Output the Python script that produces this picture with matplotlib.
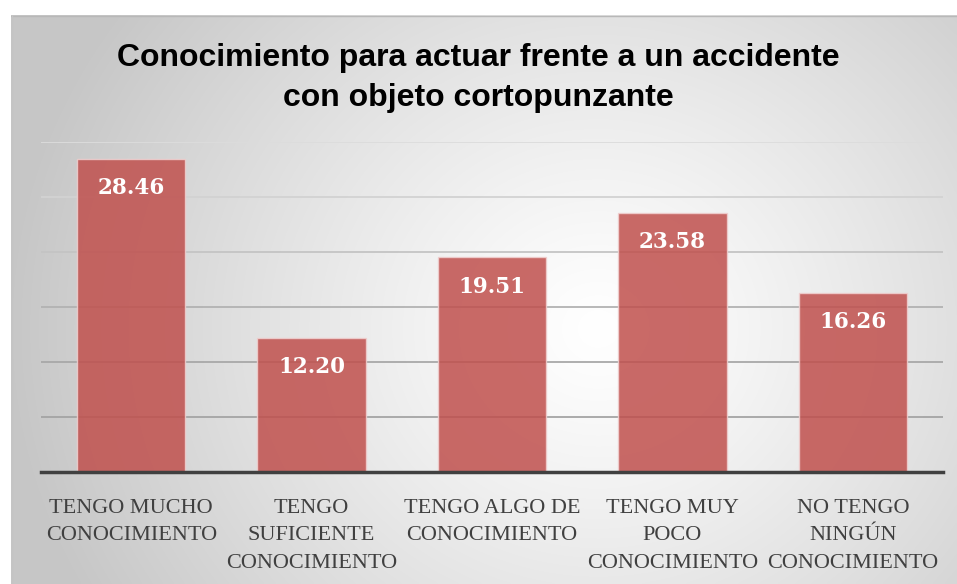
import numpy as np
import matplotlib
matplotlib.use("Agg")
import matplotlib.pyplot as plt

categories = ["TENGO MUCHO\nCONOCIMIENTO", "TENGO\nSUFICIENTE\nCONOCIMIENTO",
              "TENGO ALGO DE\nCONOCIMIENTO", "TENGO MUY\nPOCO\nCONOCIMIENTO",
              "NO TENGO\nNINGÚN\nCONOCIMIENTO"]
values = [28.46, 12.20, 19.51, 23.58, 16.26]
value_labels = ["28.46", "12.20", "19.51", "23.58", "16.26"]
title = "Conocimiento para actuar frente a un accidente\ncon objeto cortopunzante"
grid_values = [5, 10, 15, 20, 25, 30]

W, H = 957, 584
fig = plt.figure(figsize=(W / 100, H / 100), dpi=100)
fig.patch.set_facecolor("white")

# background panel with radial gradient
bg = fig.add_axes([11 / W, 0, 1 - 11 / W, 1 - 15 / H])
bg.set_axis_off()
ny, nx = 300, 500
yy, xx = np.mgrid[0:ny, 0:nx]
cx, cy = 0.62 * nx, 0.55 * ny
d = np.sqrt(((xx - cx) / (nx * 0.62)) ** 2 + ((yy - cy) / (ny * 0.95)) ** 2)
d = np.clip(d, 0, 1)
v = 1.0 - 0.22 * d ** 1.2
img = np.dstack([v, v, v])
bg.imshow(img, aspect="auto", extent=[0, 1, 0, 1], interpolation="bicubic")
bg.set_xlim(0, 1)
bg.set_ylim(0, 1)
bg.plot([0, 1], [0.998, 0.998], color="#b8b8b8", lw=1)
bg.plot([0.001, 0.001], [0, 1], color="#c4c4c4", lw=1)

# main axes
left, right = 41, 943
bottom_px, top_px = 472, 142
ax = fig.add_axes([left / W, 1 - bottom_px / H, (right - left) / W, (bottom_px - top_px) / H])
ax.patch.set_alpha(0)
x = np.arange(len(categories))
bars = ax.bar(x, values, width=0.6, color="#C0504D", alpha=0.85,
              edgecolor="#f0d0d0", linewidth=1.0, zorder=3)
ax.set_xlim(-0.5, len(categories) - 0.5)
ax.set_ylim(0, 30)
ax.set_yticks([])
grid_greys = ["#a4a4a4", "#a8a8a8", "#b2b2b2", "#c4c4c4", "#d2d2d2", "#dcdcdc"]
for gv, gc in zip(grid_values, grid_greys):
    ax.axhline(gv, color=gc, lw=1.3, zorder=1)
ax.tick_params(axis="y", left=False, labelleft=False)
ax.tick_params(axis="x", bottom=False, pad=16)
for s in ["top", "right", "left"]:
    ax.spines[s].set_visible(False)
ax.spines["bottom"].set_color("#404040")
ax.spines["bottom"].set_linewidth(2.5)
ax.spines["bottom"].set_zorder(5)
ax.set_xticks(x)
ax.set_xticklabels(categories, fontfamily="Liberation Serif", fontsize=16,
                   color="#404040", linespacing=1.6)

for b, lab in zip(bars, value_labels):
    ax.text(b.get_x() + b.get_width() / 2, b.get_height() - 2.65, lab,
            ha="center", va="center", color="white", fontsize=15.5,
            fontweight="bold", fontfamily="DejaVu Serif", zorder=4)

fig.text(0.5, 1 - 78 / H, title, ha="center", va="center", fontsize=23,
         fontweight="bold", fontfamily="Liberation Sans", color="black",
         linespacing=1.42)

fig.savefig("out.png", dpi=100)
